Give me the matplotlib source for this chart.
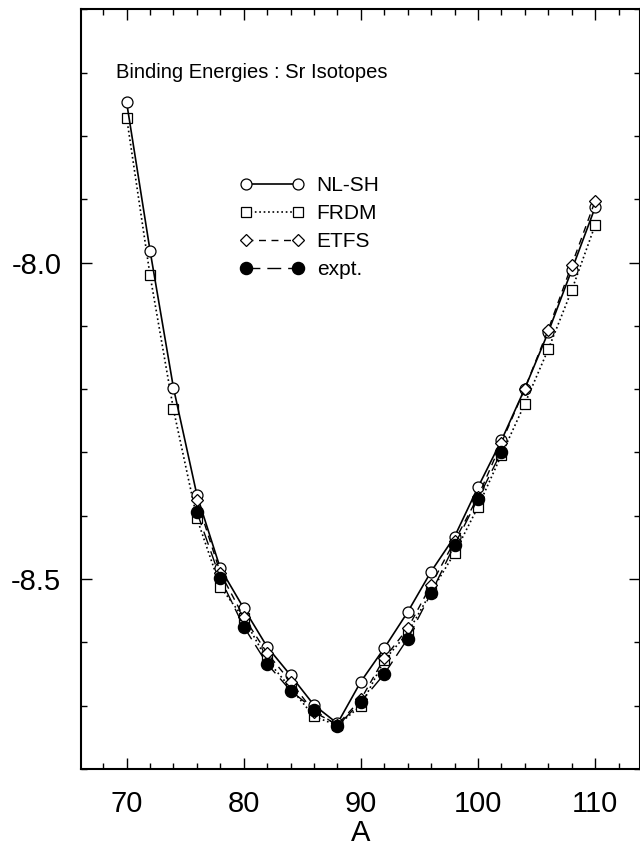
import matplotlib
matplotlib.use("Agg")
import matplotlib.pyplot as plt
from matplotlib.ticker import MultipleLocator, FormatStrFormatter

plt.rcParams['font.family'] = ['Liberation Sans', 'DejaVu Sans']

A_all = [70, 72, 74, 76, 78, 80, 82, 84, 86, 88, 90, 92, 94, 96, 98, 100, 102, 104, 106, 108, 110]
nlsh = [-7.747, -7.981, -8.198, -8.367, -8.483, -8.546, -8.607, -8.652, -8.699, -8.728, -8.662,
        -8.609, -8.552, -8.488, -8.433, -8.355, -8.281, -8.199, -8.110, -8.012, -7.913]
frdm = [-7.771, -8.020, -8.232, -8.404, -8.512, -8.562, -8.628, -8.672, -8.717, -8.731, -8.700,
        -8.628, -8.585, -8.520, -8.459, -8.386, -8.304, -8.223, -8.137, -8.044, -7.941]
A_etfs = [76, 78, 80, 82, 84, 86, 88, 90, 92, 94, 96, 98, 100, 102, 104, 106, 108, 110]
etfs = [-8.375, -8.490, -8.560, -8.617, -8.662, -8.710, -8.730, -8.690, -8.625, -8.578, -8.509,
        -8.440, -8.370, -8.285, -8.199, -8.106, -8.004, -7.903]
A_expt = [76, 78, 80, 82, 84, 86, 88, 90, 92, 94, 96, 98, 100, 102]
expt = [-8.394, -8.499, -8.575, -8.634, -8.676, -8.706, -8.732, -8.694, -8.650, -8.594, -8.522,
        -8.446, -8.373, -8.299]

fig = plt.figure(figsize=(6.4, 8.49), dpi=100)
ax = fig.add_axes([0.1261, 0.0942, 0.874, 0.8948])

ax.plot(A_all, nlsh, '-', color='black', lw=1.2, marker='o', ms=7.9,
        mfc='white', mec='black', mew=0.9, label='NL-SH', zorder=3)
ax.plot(A_all, frdm, ':', color='black', lw=1.2, marker='s', ms=6.5,
        mfc='white', mec='black', mew=0.9, label='FRDM', zorder=2)
ax.plot(A_etfs, etfs, color='black', lw=1.0, ls=(0, (5, 4)), marker='D', ms=6.2,
        mfc='white', mec='black', mew=0.9, label='ETFS', zorder=4)
ax.plot(A_expt, expt, color='black', lw=1.0, ls=(0, (10, 5)), marker='o', ms=8.7,
        mfc='black', mec='black', label='expt.', zorder=5)

ax.set_xlim(66.08, 113.84)
ax.set_ylim(-8.8, -7.6)
ax.xaxis.set_major_locator(MultipleLocator(10))
ax.xaxis.set_minor_locator(MultipleLocator(2))
ax.yaxis.set_major_locator(MultipleLocator(0.5))
ax.yaxis.set_minor_locator(MultipleLocator(0.1))
ax.tick_params(which='both', direction='in', top=True, right=True, width=1.0)
ax.tick_params(which='major', length=8, labelsize=21)
ax.tick_params(axis='x', which='major', pad=15)
ax.tick_params(axis='y', which='major', pad=14)
ax.tick_params(which='minor', length=4)
ax.yaxis.set_major_formatter(FormatStrFormatter('%.1f'))
for s in ax.spines.values():
    s.set_linewidth(1.5)

ax.set_xlabel('A', fontsize=21, labelpad=1)

ax.text(116 / 640, 1 - 72 / 849, 'Binding Energies : Sr Isotopes', transform=fig.transFigure,
        fontsize=14.5, ha='left', va='center')

lsize = 15
ax.legend(loc='upper left', bbox_to_anchor=(239.8 / 640, 1 - 176 / 849),
          bbox_transform=fig.transFigure, frameon=False,
          prop={'size': lsize},
          numpoints=2, handlelength=64.4 / (lsize * 100 / 72), labelspacing=0.43,
          handletextpad=0.6, borderpad=0, borderaxespad=0)

fig.savefig('out.png', dpi=100)
